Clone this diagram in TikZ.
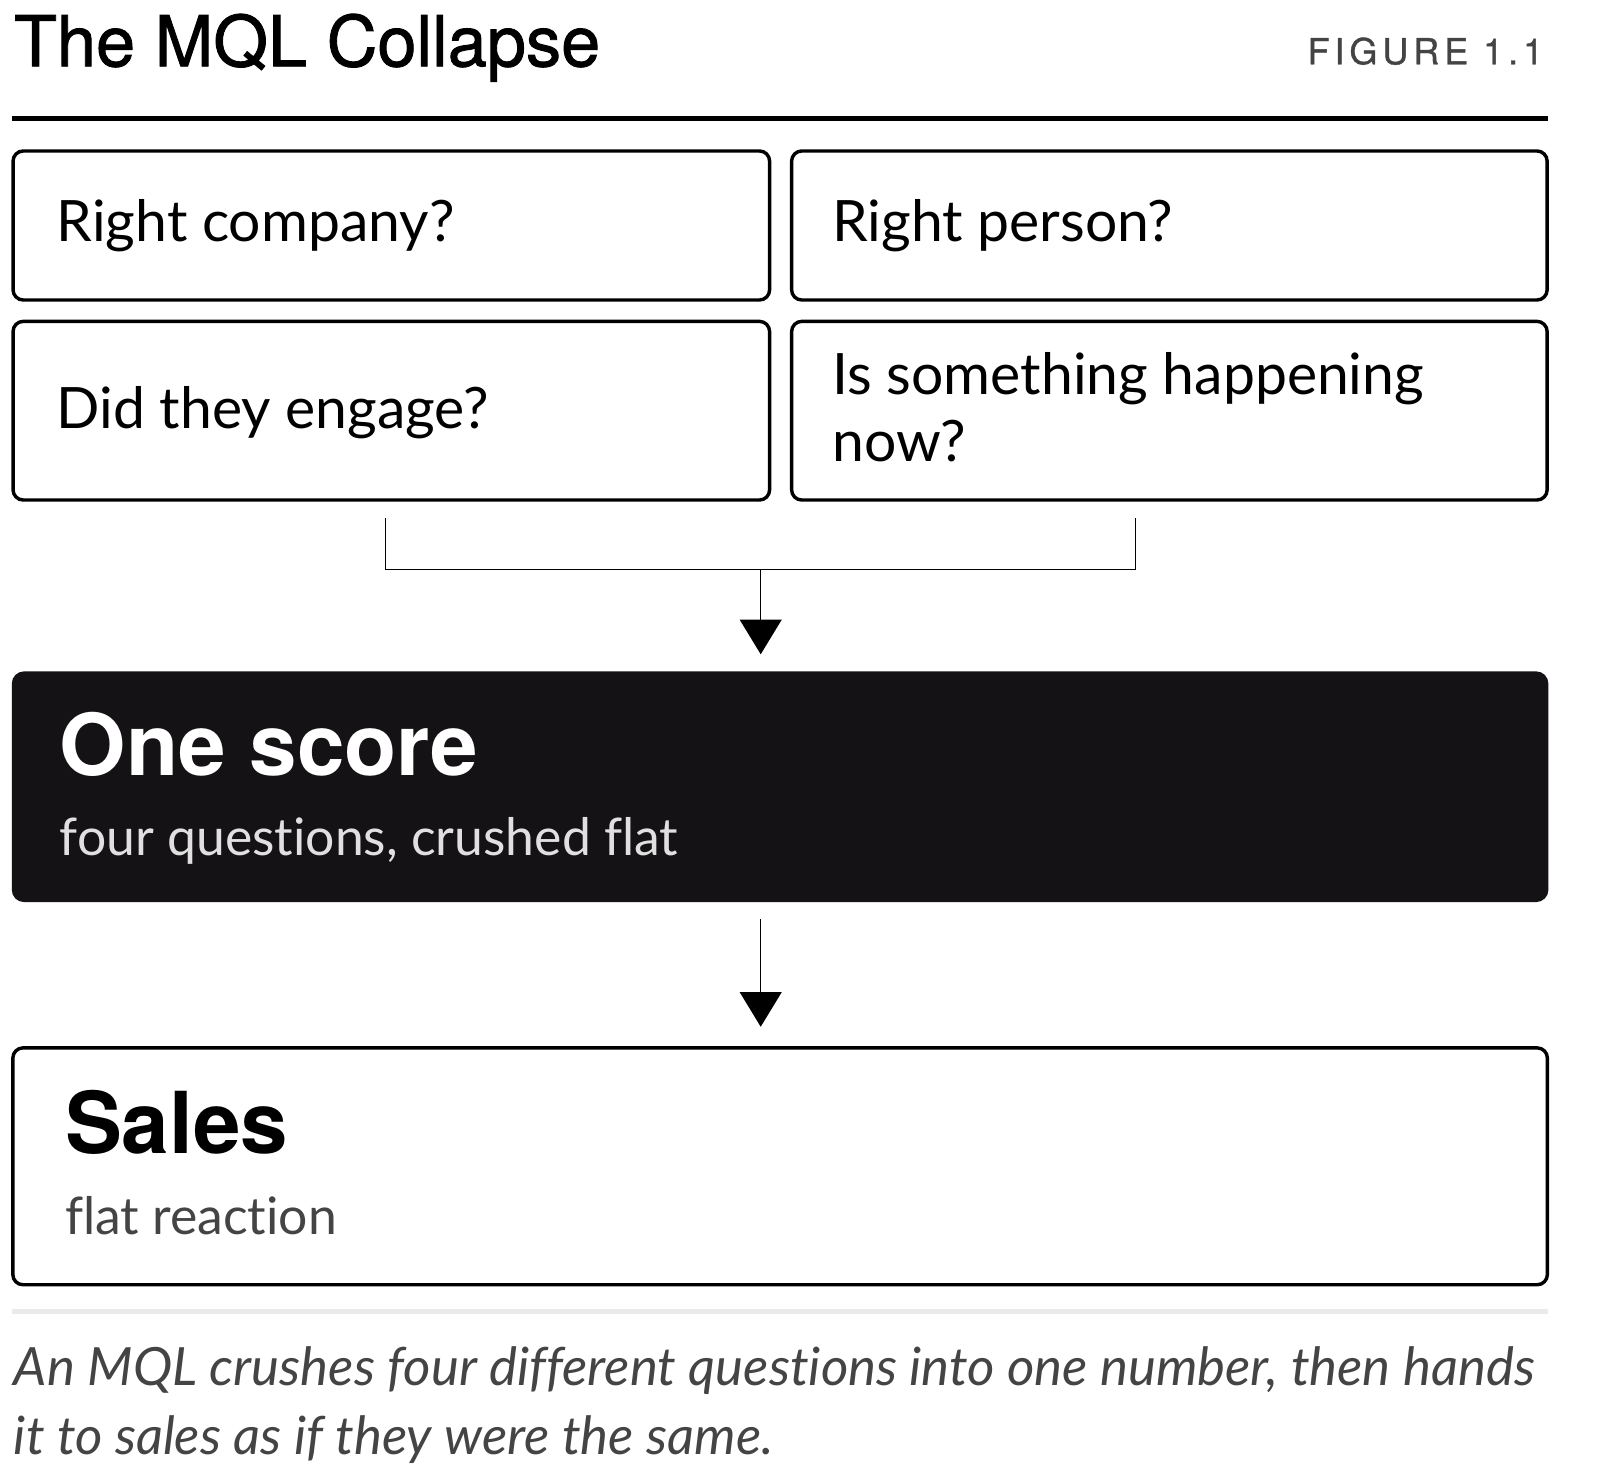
\documentclass[tikz,border=0pt]{standalone}
\usepackage{fontspec}
\usepackage{tikz}
\usetikzlibrary{arrows.meta}
\setmainfont{Lato}[Ligatures={NoCommon,NoRare}]
\newfontfamily\headfont{TeX Gyre Heros}
\newfontfamily\titlefont[FakeBold=1.2]{TeX Gyre Heros}
\newfontfamily\capsfont[LetterSpace=14, FakeBold=1]{TeX Gyre Heros}
\definecolor{inkblack}{HTML}{141214}
\definecolor{softgray}{HTML}{444444}
\definecolor{palegray}{HTML}{E0E0E0}
\definecolor{rulegray}{HTML}{EAEAEA}

\begin{document}
\begin{tikzpicture}[x=0.01cm, y=-0.01cm,
	qbox/.style = {draw, line width=0.95pt, rounded corners=0.1cm, inner sep=0pt},
	qtext/.style = {anchor=base west, inner sep=0pt, font=\fontsize{15.9}{18.5}\selectfont, align=left},
	bigtext/.style = {anchor=base west, inner sep=0pt, font=\headfont\bfseries\fontsize{23.8}{28}\selectfont},
	subtext/.style = {anchor=base west, inner sep=0pt, font=\fontsize{14.4}{18}\selectfont},
	arr/.style = {line width=0.4pt, -{Triangle[length=0.34cm, width=0.41cm]}}]
	\useasboundingbox (0,0) rectangle (1568,1446.5);

	% header
	\node [anchor=base west, inner sep=0pt, font=\titlefont\fontsize{19.6}{24}\selectfont] (title) at (13,65) {The MQL Collapse};
	\node [anchor=base east, inner sep=0pt, font=\capsfont\fontsize{10}{12}\selectfont, text=softgray] (fig) at (1513,63) {FIGURE 1.1};
	\draw [line width=1.2pt] (12,116) -- (1517,116);

	% four questions
	\node [qbox, minimum width=7.41cm, minimum height=1.46cm] (company) at (383.5,221) {};
	\node [qbox, minimum width=7.40cm, minimum height=1.46cm] (person) at (1146,221) {};
	\node [qbox, minimum width=7.41cm, minimum height=1.75cm] (engage) at (383.5,402.5) {};
	\node [qbox, minimum width=7.40cm, minimum height=1.75cm] (now) at (1146,402.5) {};
	\node [qtext] at (55,237) {Right company?};
	\node [qtext] at (815,237) {Right person?};
	\node [qtext] at (55,420) {Did they engage?};
	\node [qtext] at (815,452) {Is something happening\\now?};

	% bracket
	\coordinate (lft) at (378,508);
	\coordinate (rgt) at (1113,508);
	\coordinate (join) at (745.5,558);
	\draw [line width=0.4pt] (lft) |- (join) -| (rgt);

	% one score
	\node [fill=inkblack, rounded corners=0.12cm, minimum width=15.05cm, minimum height=2.26cm, inner sep=0pt] (score) at (764.5,771) {};
	\node [bigtext, text=white] at (58,760) {One score};
	\node [subtext, text=palegray] at (58,838) {four questions, crushed flat};
	\draw [arr, shorten >=0.16cm] (join) -- (join |- score.north);

	% sales
	\node [qbox, minimum width=15.03cm, minimum height=2.32cm] (sales) at (764.5,1143) {};
	\node [bigtext] at (63,1130) {Sales};
	\node [subtext, text=softgray] at (63,1210) {flat reaction};
	\draw [arr, shorten <=0.16cm, shorten >=0.19cm] (join |- score.south) -- (join |- sales.north);

	% caption
	\draw [line width=1.3pt, rulegray] (12,1285) -- (1517,1285);
	\node [anchor=base west, inner sep=0pt, font=\itshape\fontsize{14.7}{19}\selectfont, text=softgray, align=left] (caption) at (13,1425) {An MQL crushes four different questions into one number, then hands\\it to sales as if they were the same.};
\end{tikzpicture}
\end{document}
